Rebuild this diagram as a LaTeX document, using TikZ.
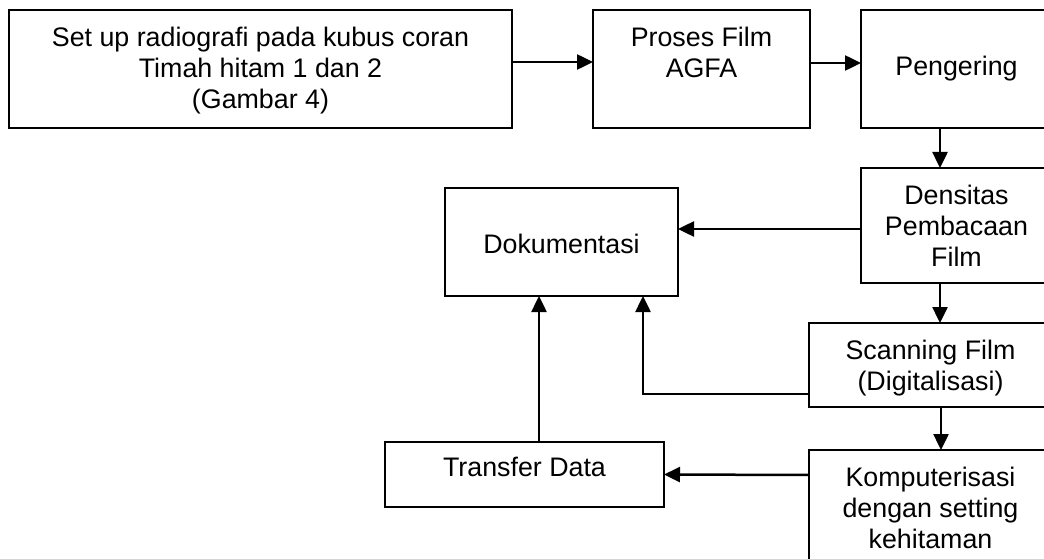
\documentclass[tikz,border=0pt]{standalone}
\usepackage{fontspec}
\setmainfont{Liberation Sans}
\usetikzlibrary{arrows.meta,positioning}

\begin{document}
\begin{tikzpicture}[
  x=1pt, y=-1pt,
  font=\fontsize{26.8}{31}\selectfont,
  box/.style={draw, line width=1.8pt, outer sep=0pt, inner sep=0pt, anchor=north west},
  txt/.style={anchor=north, yshift=-17pt, align=center, inner sep=0pt},
  txtlow/.style={txt, yshift=-29pt},
  flow/.style={-{Triangle[length=16pt,width=15pt]}, line width=2.5pt}
]
\path[use as bounding box] (0,0) rectangle (1044,559);
\clip (0,0) rectangle (1044,559);

\node[box, minimum width=503pt, minimum height=118pt, label={[txt]north:Set up radiografi pada kubus coran\\Timah hitam 1 dan 2\\(Gambar 4)}] (setup) at (9,10) {};
\node[box, minimum width=217pt, minimum height=118pt, right=81pt of setup, label={[txt]north:Proses Film\\AGFA}] (proses) {};
\node[box, minimum width=191pt, minimum height=118pt, right=51pt of proses, label={[txtlow]north:Pengering}] (pengering) {};
\node[box, minimum width=191pt, minimum height=115pt, below=40pt of pengering.south east, anchor=north east, label={[txt]north:Densitas\\Pembacaan\\Film}] (densitas) {};
\node[box, minimum width=243pt, minimum height=84pt, below=40pt of densitas.south east, anchor=north east, label={[txt]north:Scanning Film\\(Digitalisasi)}] (scanning) {};
\node[box, minimum width=243pt, minimum height=160pt, below=43pt of scanning.south east, anchor=north east, label={[txt]north:Komputerisasi\\dengan setting\\kehitaman}] (komputer) {};
\node[box, minimum width=233pt, minimum height=108pt, label={[txtlow]north:Dokumentasi}] (dokumentasi) at (445,188) {};
\node[box, minimum width=279pt, minimum height=65pt, label={[txt, yshift=2pt]north:Transfer Data}] (transfer) at (385,442) {};

\draw[flow] ([yshift=7pt]setup.east) -- ([yshift=7pt]proses.west);
\draw[flow] ([yshift=6pt]proses.east) -- ([yshift=6pt]pengering.west);
\draw[flow] ([xshift=-16.5pt]pengering.south) -- ([xshift=-16.5pt]densitas.north);
\draw[flow] ([yshift=-3.5pt]densitas.west) -- ([yshift=13pt]dokumentasi.east);
\draw[flow] ([xshift=-16.5pt]densitas.south) -- ([xshift=9.5pt]scanning.north);
\draw[flow] ([yshift=-29pt]scanning.west) -| ([xshift=81.5pt]dokumentasi.south);
\draw[flow] ([xshift=10.5pt]scanning.south) -- ([xshift=10.5pt]komputer.north);
\draw[flow] ([yshift=55pt]komputer.west) -- (transfer.east);
\draw[flow] ([xshift=14.5pt]transfer.north) -- ([xshift=-22.5pt]dokumentasi.south);
\end{tikzpicture}
\end{document}
